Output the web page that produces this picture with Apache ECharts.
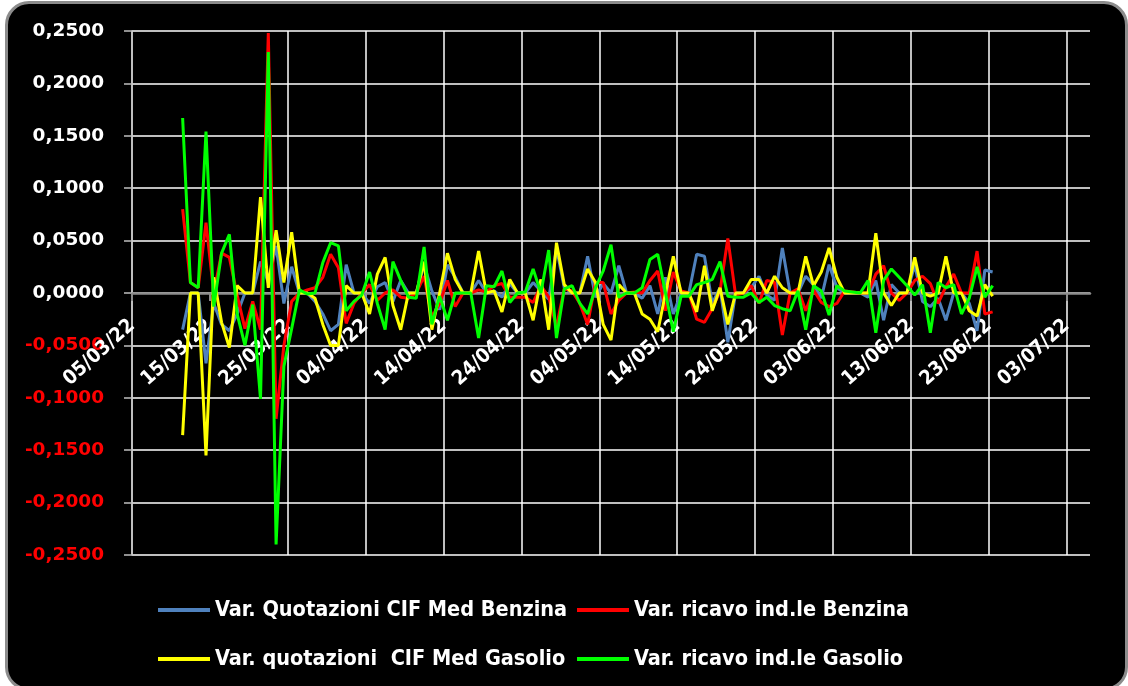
<!DOCTYPE html>
<html>
<head>
<meta charset="utf-8">
<script src="https://cdn.jsdelivr.net/npm/echarts@6/dist/echarts.min.js"></script>
<style>
html,body{margin:0;padding:0;background:#fff;width:1128px;height:686px;overflow:hidden;}
#frame{position:absolute;left:5px;top:1px;width:1123px;height:690px;background:#000;border:3px solid #8c8c8c;border-radius:24px;box-sizing:border-box;}
#chart{position:absolute;left:0;top:0;width:1128px;height:686px;}
</style>
</head>
<body>
<div id="frame"></div>
<div id="chart"></div>
<script>
// First plotted day: 11/03/22 (day offset 6 from 05/03/22), one value per calendar day
const startDate = '05/03/22';
const firstDayOffset = 6;
const seriesNames = [
  'Var. Quotazioni CIF Med Benzina',
  'Var. ricavo ind.le Benzina',
  'Var. quotazioni  CIF Med Gasolio',
  'Var. ricavo ind.le Gasolio'
];
const quotBenzina = [
 -0.035,0,0,-0.067,-0.010,-0.030,-0.036,-0.020,0,0,0.030,0.010,0.045,-0.010,0.025,
 0,0,-0.008,-0.020,-0.036,-0.030,0.027,0,0,-0.010,0.006,0.010,-0.008,0.012,0,
 0,0.027,0.002,-0.016,0.027,0.015,0,0,0.012,0,0.002,-0.004,0.009,0,0,
 0.010,0.002,-0.006,0.043,0.005,0,0,0.035,-0.004,0.009,0.000,0.026,0,0,-0.005,
 0.007,-0.020,0.015,-0.020,0,0,0.037,0.035,-0.010,0.005,-0.047,0,0,0.005,0.016,
 -0.002,-0.007,0.043,0,0,0.016,0.008,-0.005,0.027,0.005,0,0,0,-0.004,0.012,
 -0.026,0.008,0,0,0.027,-0.008,-0.013,-0.005,-0.026,0,0,-0.010,-0.036,0.022,0.020
];
const ricavoBenzina = [
 0.080,0.010,0.005,0.067,0,0.038,0.034,-0.002,-0.034,-0.008,-0.035,0.248,-0.120,-0.050,-0.008,
 0,0.003,0.005,0.015,0.037,0.024,-0.029,-0.010,0,0.008,-0.007,0,0.003,-0.004,-0.005,
 0,0.016,-0.023,-0.010,0.012,-0.013,0,0,0.003,0.001,0.007,0.009,-0.004,-0.004,-0.004,
 -0.009,0.007,-0.004,-0.032,0.004,0.002,-0.010,-0.030,0.010,0.010,-0.020,-0.007,0,0.001,0,
 0.012,0.021,-0.017,0.020,0.002,0,-0.025,-0.028,-0.015,0.002,0.052,-0.002,0,0.007,-0.010,
 0.012,0.010,-0.040,0,0.004,-0.017,0.003,-0.009,-0.013,-0.010,0.002,0.001,0,0,0.018,
 0.026,0,-0.007,0,0.012,0.016,0.009,-0.010,0.006,0.018,0,0,0.040,-0.020,-0.018
];
const quotGasolio = [
 -0.1356,0,0,-0.155,0.015,-0.028,-0.052,0.007,0,0,0.0915,0.005,0.060,0.010,0.058,
 0,0,-0.005,-0.030,-0.050,-0.050,0.007,0,0,-0.020,0.018,0.034,-0.012,-0.035,0,
 0,0.030,-0.035,0,0.038,0.013,0,0,0.040,0,0.002,-0.018,0.013,0,0,
 -0.026,0.013,-0.035,0.048,0.008,0,0,0.023,0.010,-0.030,-0.045,0.008,0,0,-0.020,
 -0.025,-0.037,0,0.035,0,0,-0.018,0.026,-0.017,0.005,-0.030,0,0,0.013,0.013,
 0,0.016,0.005,0,0,0.035,0.007,0.020,0.043,0.015,0,0,0,0,0.057,
 0,-0.012,0,0,0.034,0,-0.003,0,0.035,0,0,-0.017,-0.022,0.008,-0.003
];
const ricavoGasolio = [
 0.167,0.010,0.005,0.154,-0.013,0.038,0.056,-0.020,-0.050,-0.011,-0.101,0.230,-0.240,-0.070,-0.034,
 0.003,-0.001,0,0.029,0.048,0.045,-0.017,-0.008,-0.002,0.020,-0.010,-0.035,0.030,0.012,-0.004,
 -0.005,0.044,-0.030,-0.003,-0.026,0,0,0,-0.043,0.007,0.006,0.021,-0.009,0,0.001,
 0.023,0,0.041,-0.043,0.004,0.007,-0.010,-0.020,0.005,0.021,0.046,-0.004,0,0,0.005,
 0.032,0.037,0,-0.037,-0.003,-0.003,0.008,0.010,0.013,0.030,-0.003,-0.004,-0.004,0,-0.009,
 -0.004,-0.012,-0.015,-0.017,0.002,-0.035,0.007,0.002,-0.021,0.007,0.002,0.001,0,0.012,-0.038,
 0.012,0.023,0.015,0.007,-0.002,0.008,-0.038,0.010,0.005,0.008,-0.020,-0.005,0.025,-0.004,0.007
];
const seriesValues = [quotBenzina, ricavoBenzina, quotGasolio, ricavoGasolio];
const seriesColors = ['#4f81bd', '#ff0000', '#ffff00', '#00ff00'];

const DAY = 86400000;
const base = Date.UTC(2022, 2, 5);
function fmtDay(d) {
  const t = new Date(base + Math.round(d) * DAY);
  const dd = String(t.getUTCDate()).padStart(2, '0');
  const mm = String(t.getUTCMonth() + 1).padStart(2, '0');
  const yy = String(t.getUTCFullYear()).slice(2);
  return dd + '/' + mm + '/' + yy;
}
function fmtVal(v) {
  if (Math.abs(v) < 1e-9) v = 0;
  return v.toFixed(4).replace('.', ',');
}

const vLineColors = [];
for (let i = 0; i < 14; i++) vLineColors.push((i === 1 || i === 13) ? 'rgba(0,0,0,0)' : '#ffffff');

const gridTop = 31, gridBottom = 131, chartH = 686;
const yMin = -0.25, yMax = 0.25;
// place the date axis on the zero line of the value axis
const plotH = chartH - gridTop - gridBottom;
const zeroOffset = -plotH * (0 - yMin) / (yMax - yMin);

const chart = echarts.init(document.getElementById('chart'), null, {renderer: 'canvas'});
const series = seriesNames.map((name, k) => ({
  name: name,
  type: 'line',
  showSymbol: false,
  symbol: 'none',
  animation: false,
  z: 2 + k,
  lineStyle: {color: seriesColors[k], width: 3},
  itemStyle: {color: seriesColors[k]},
  data: seriesValues[k].map((v, i) => [firstDayOffset + i + 0.5, v])
}));

const legendFont = {color: '#ffffff', fontWeight: 'bold', fontFamily: 'DejaVu Sans Condensed', fontSize: 21.5};
const legendPos = [[158, 599], [577, 599], [158, 648], [577, 648]];
const legends = seriesNames.map((name, k) => ({
  data: [name], left: legendPos[k][0], top: legendPos[k][1], padding: 0,
  icon: 'rect', itemWidth: 52, itemHeight: 4, textStyle: legendFont, selectedMode: false
}));

chart.setOption({
  backgroundColor: 'transparent',
  animation: false,
  grid: {left: 132, right: 38, top: gridTop, bottom: gridBottom, containLabel: false},
  legend: legends,
  xAxis: {
    type: 'value', min: 0, max: 123, interval: 10,
    position: 'bottom', offset: zeroOffset,
    axisLine: {onZero: false, lineStyle: {color: '#8c8c8c', width: 2.5}},
    axisTick: {show: true, length: 8, lineStyle: {color: '#8c8c8c', width: 2}},
    axisLabel: {
      rotate: 42, color: '#ffffff', fontFamily: 'DejaVu Sans Condensed', fontWeight: 'bold', fontSize: 20,
      margin: 30, showMaxLabel: false, formatter: fmtDay
    },
    splitLine: {show: true, showMaxLine: false, lineStyle: {color: vLineColors, width: 1.5}}
  },
  yAxis: {
    type: 'value', min: yMin, max: yMax, interval: 0.05,
    axisLine: {show: true, onZero: false, lineStyle: {color: '#bfbfbf', width: 1.5}},
    axisTick: {show: true, length: 8, lineStyle: {color: '#bfbfbf', width: 1.5}},
    axisLabel: {
      fontFamily: 'DejaVu Sans', fontWeight: 'bold', fontSize: 18.5, margin: 28,
      formatter: fmtVal,
      color: function (v) { return parseFloat(v) < -1e-9 ? '#ff0000' : '#ffffff'; }
    },
    splitLine: {show: true, lineStyle: {color: '#ffffff', width: 1.5}}
  },
  series: series
});
</script>
</body>
</html>
